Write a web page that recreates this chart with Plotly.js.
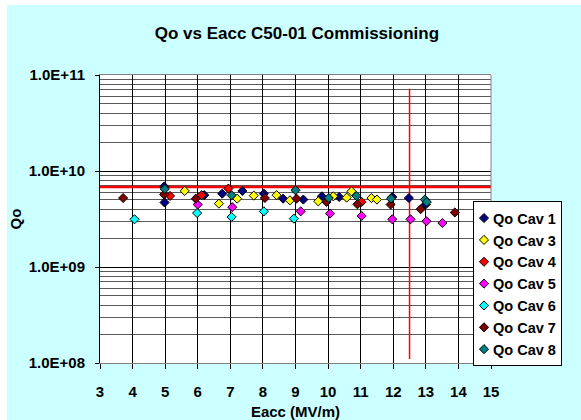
<!DOCTYPE html>
<html>
<head>
<meta charset="utf-8">
<script src="https://cdn.plot.ly/plotly-3.0.1.min.js"></script>
<style>
  html, body { margin: 0; padding: 0; background: #ffffff; width: 581px; height: 420px; overflow: hidden; }
  #chart { position: absolute; left: 7px; top: 5px; width: 574px; height: 415px; }
</style>
</head>
<body>
<div id="chart"></div>
<script>
// ---- data ----
var seriesNames = ['Qo Cav 1', 'Qo Cav 3', 'Qo Cav 4', 'Qo Cav 5', 'Qo Cav 6', 'Qo Cav 7', 'Qo Cav 8'];

var cav1X = [4.97, 4.98, 6.2, 6.75, 7.37, 8.03, 8.62, 9.24, 9.81, 10.34, 11.97, 12.48, 13.0];
var cav1Y = [6.9e9, 4.7e9, 5.6e9, 5.8e9, 6.2e9, 5.8e9, 5.15e9, 5.04e9, 5.45e9, 5.36e9, 5.36e9, 5.23e9, 4.5e9];

var cav3X = [5.6, 6.65, 7.21, 7.72, 8.42, 8.83, 9.7, 10.16, 10.57, 10.72, 11.33, 11.5];
var cav3Y = [6.2e9, 4.57e9, 5.15e9, 5.54e9, 5.6e9, 4.95e9, 4.83e9, 5.45e9, 5.28e9, 6.14e9, 5.23e9, 5.04e9];

var cav4X = [5.15, 6.12, 6.94, 11.03];
var cav4Y = [5.5e9, 5.6e9, 6.56e9, 4.76e9];

var cav5X = [6.0, 7.06, 9.16, 10.06, 11.03, 11.97, 12.53, 13.02, 13.51];
var cav5Y = [4.47e9, 4.2e9, 3.8e9, 3.6e9, 3.4e9, 3.14e9, 3.14e9, 3.0e9, 2.87e9];

var cav6X = [4.06, 5.98, 7.04, 8.03, 8.95];
var cav6Y = [3.14e9, 3.65e9, 3.32e9, 3.8e9, 3.19e9];

var cav7X = [3.71, 4.97, 5.94, 8.06, 9.03, 9.95, 10.9, 11.92, 12.84, 13.89];
var cav7Y = [5.23e9, 5.7e9, 5.15e9, 5.23e9, 5.15e9, 4.76e9, 4.5e9, 4.47e9, 4.0e9, 3.7e9];

var cav8X = [4.99, 7.04, 9.0, 10.02, 10.87, 11.93, 12.97, 13.03];
var cav8Y = [6.5e9, 5.58e9, 6.3e9, 5.23e9, 5.5e9, 5.15e9, 5.04e9, 4.75e9];

// reference lines (Qo spec and Eacc spec)
var specQoX = [3, 15];
var specQoY = [6.8e9, 6.8e9];
var specEaccX = [12.5, 12.5];
var specEaccY = [1.1e8, 7.2e10];

var xTickVals = [3, 4, 5, 6, 7, 8, 9, 10, 11, 12, 13, 14, 15];
var yTickVals = [1e8, 1e9, 1e10, 1e11];
var yTickText = ['1.0E+08', '1.0E+09', '1.0E+10', '1.0E+11'];

var colors = ['#000080', '#FFFF00', '#FF0000', '#FF00FF', '#00FFFF', '#800000', '#008080'];

// ---- chart ----
var FONT = 'Liberation Sans, Arial, Helvetica, sans-serif';
var xs = [cav1X, cav3X, cav4X, cav5X, cav6X, cav7X, cav8X];
var ys = [cav1Y, cav3Y, cav4Y, cav5Y, cav6Y, cav7Y, cav8Y];

var data = [
  { x: specQoX, y: specQoY, mode: 'lines', line: { color: '#FF0000', width: 2.5 }, showlegend: false, hoverinfo: 'skip' },
  { x: specEaccX, y: specEaccY, mode: 'lines', line: { color: '#FF0000', width: 1.5 }, showlegend: false, hoverinfo: 'skip' }
];
for (var i = 0; i < seriesNames.length; i++) {
  data.push({
    x: xs[i], y: ys[i], name: seriesNames[i], type: 'scatter', mode: 'markers',
    marker: { symbol: 'diamond', size: 7, color: colors[i], line: { color: '#000000', width: 1 } }
  });
}

var layout = {
  width: 574, height: 415,
  margin: { l: 93, r: 90, t: 70, b: 57, pad: 0, autoexpand: false },
  paper_bgcolor: '#CCFFFF',
  plot_bgcolor: '#FFFFFF',
  font: { family: FONT, size: 15, color: '#000000', weight: 'bold' },
  title: {
    text: 'Qo vs Eacc C50-01 Commissioning',
    font: { family: FONT, size: 17, color: '#000000', weight: 'bold' },
    x: 0.505, xref: 'container', xanchor: 'center',
    y: 0.932, yref: 'container', yanchor: 'middle'
  },
  xaxis: {
    range: [3, 15], tickmode: 'array', tickvals: xTickVals, ticktext: xTickVals.map(String),
    showgrid: true, gridcolor: '#000000', gridwidth: 1, zeroline: false,
    showline: true, linecolor: '#808080', linewidth: 1, mirror: true,
    ticks: 'outside', ticklen: 5, tickcolor: '#000000', tickwidth: 1,
    ticklabelstandoff: 10,
    tickfont: { family: FONT, size: 15, color: '#000000', weight: 'bold' },
    title: { text: 'Eacc (MV/m)', standoff: 8, font: { family: FONT, size: 15, color: '#000000', weight: 'bold' } }
  },
  yaxis: {
    type: 'log', range: [8, 11], tickmode: 'array', tickvals: yTickVals, ticktext: yTickText,
    showgrid: true, gridcolor: '#000000', gridwidth: 1, zeroline: false,
    showline: true, linecolor: '#000000', linewidth: 1,
    ticks: 'outside', ticklen: 4, tickcolor: '#000000', tickwidth: 1,
    ticklabelstandoff: 7,
    tickfont: { family: FONT, size: 15, color: '#000000', weight: 'bold' },
    minor: { dtick: 'D1', showgrid: true, gridcolor: '#5a5a5a', gridwidth: 1, ticks: '' },
    title: { text: 'Qo', standoff: 4, font: { family: FONT, size: 15, color: '#000000', weight: 'bold' } }
  },
  shapes: [
    { type: 'line', xref: 'paper', yref: 'paper', x0: 1, x1: 1, y0: 0, y1: 1, line: { color: '#808080', width: 1 } }
  ],
  legend: {
    x: 0.954, y: 0.562, xanchor: 'left', yanchor: 'top',
    bgcolor: '#FFFFFF', bordercolor: '#000000', borderwidth: 1,
    font: { family: FONT, size: 14.5, color: '#000000', weight: 'bold' },
    itemwidth: 30
  },
  showlegend: true
};

var gd = document.getElementById('chart');
Plotly.newPlot(gd, data, layout, { staticPlot: true, displayModeBar: false }).then(function () {
  // tighten the legend symbol/text spacing to match the reference
  var leg = gd.querySelector('g.legend');
  if (!leg) return;
  var shift = 21;
  leg.querySelectorAll('g.traces').forEach(function (t) {
    var pts = t.querySelector('g.legendpoints');
    if (pts) pts.setAttribute('transform', 'translate(-10,0)');
    var txt = t.querySelector('text.legendtext');
    if (txt) txt.setAttribute('x', String(parseFloat(txt.getAttribute('x')) - shift));
  });
  var bg = leg.querySelector('rect.bg');
  if (bg) bg.setAttribute('width', String(parseFloat(bg.getAttribute('width')) - shift));
});
</script>
</body>
</html>
